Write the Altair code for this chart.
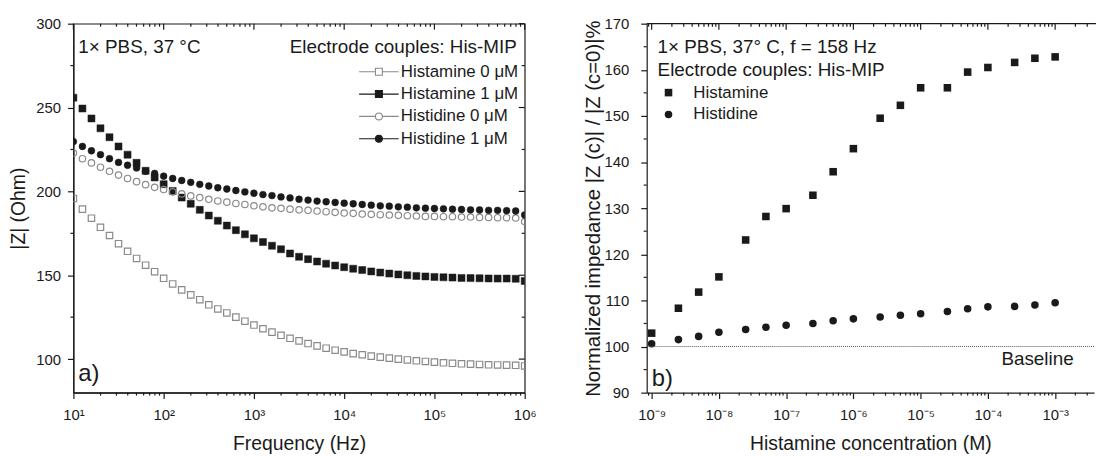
import altair as alt
import pandas as pd

FONT = "Liberation Sans"
INK = "#1a1a1a"
GRAY = "#8a8a8a"

# ---------------- panel a) data ----------------
freq_hz = [10, 12.59, 15.85, 19.95, 25.12, 31.62, 39.81, 50.12, 63.1, 79.43,
           100, 125.9, 158.5, 199.5, 251.2, 316.2, 398.1, 501.2, 631, 794.3,
           1000, 1259, 1585, 1995, 2512, 3162, 3981, 5012, 6310, 7943,
           10000, 12590, 15850, 19950, 25120, 31620, 39810, 50120, 63100, 79430,
           100000, 125900, 158500, 199500, 251200, 316200, 398100, 501200, 631000, 794300,
           1000000]
histamine_0uM = [195.8, 189.4, 184.0, 178.6, 173.7, 168.8, 164.3, 160.0, 156.0, 152.1,
                 148.2, 144.8, 141.3, 138.3, 135.4, 132.4, 129.9, 127.5, 125.0, 122.6,
                 120.3, 118.1, 116.1, 114.2, 112.4, 110.9, 109.3, 107.9, 106.5, 105.3,
                 104.3, 103.3, 102.6, 101.8, 101.2, 100.6, 100.0, 99.5, 99.0, 98.6,
                 98.2, 97.8, 97.5, 97.2, 97.0, 96.8, 96.6, 96.5, 96.4, 96.3, 95.9]
histamine_1uM = [255.9, 249.4, 243.5, 237.6, 232.3, 226.8, 221.9, 217.0, 212.3, 208.3,
                 204.3, 200.3, 196.3, 192.6, 189.0, 185.6, 182.5, 179.6, 176.9, 174.4,
                 172.0, 169.8, 167.6, 165.5, 163.0, 161.0, 159.6, 158.2, 156.9, 155.8,
                 154.8, 153.9, 153.1, 152.3, 151.6, 151.0, 150.5, 150.0, 149.6, 149.3,
                 149.0, 148.8, 148.6, 148.4, 148.3, 148.2, 148.1, 148.0, 148.0, 147.9, 146.6]
histidine_0uM = [222.9, 219.5, 217.0, 214.4, 212.0, 209.7, 207.7, 205.8, 204.0, 202.4,
                 201.1, 199.7, 198.5, 197.3, 196.3, 195.3, 194.3, 193.6, 192.8, 192.2,
                 191.4, 190.8, 190.2, 189.9, 189.4, 189.0, 188.7, 188.3, 187.9, 187.5,
                 187.1, 186.9, 186.5, 186.3, 186.1, 185.9, 185.7, 185.5, 185.3, 185.1,
                 185.1, 184.9, 184.9, 184.7, 184.7, 184.5, 184.5, 184.3, 184.3, 184.1, 182.0]
histidine_1uM = [229.7, 226.8, 224.2, 221.9, 219.5, 217.3, 215.6, 214.0, 212.0, 210.7,
                 209.1, 207.7, 206.5, 205.4, 204.2, 203.2, 202.2, 201.4, 200.5, 199.7,
                 198.9, 198.1, 197.5, 196.7, 196.1, 195.3, 194.8, 194.2, 193.8, 193.4,
                 193.0, 192.6, 192.2, 191.8, 191.4, 191.2, 190.8, 190.6, 190.2, 190.0,
                 189.8, 189.6, 189.4, 189.2, 189.0, 188.9, 188.7, 188.7, 188.5, 188.3, 185.9]
series_left = ["Histamine 0 μM", "Histamine 1 μM", "Histidine 0 μM", "Histidine 1 μM"]
values_left = [histamine_0uM, histamine_1uM, histidine_0uM, histidine_1uM]

# ---------------- panel b) data ----------------
conc_M = [1e-9, 2.5e-9, 5e-9, 1e-8, 2.5e-8, 5e-8, 1e-7, 2.5e-7, 5e-7, 1e-6,
          2.5e-6, 5e-6, 1e-5, 2.5e-5, 5e-5, 1e-4, 2.5e-4, 5e-4, 1e-3]
norm_histamine = [102.9, 108.3, 111.8, 115.1, 123.1, 128.2, 129.9, 132.8, 137.9, 142.9,
                  149.5, 152.3, 156.1, 156.1, 159.5, 160.5, 161.6, 162.5, 162.8]
norm_histidine = [100.6, 101.5, 102.2, 103.1, 103.7, 104.2, 104.6, 105.0, 105.6, 106.0,
                  106.4, 106.8, 107.1, 107.6, 108.2, 108.6, 108.7, 109.0, 109.5]
series_right = ["Histamine", "Histidine"]
baseline_value = [100]

# tick positions
left_decades = [10, 100, 1e3, 1e4, 1e5, 1e6]
left_minor = [m * 10 ** k for k in range(1, 6) for m in range(2, 10)]
left_y_major = [100, 150, 200, 250, 300]
left_y_minor = [125, 175, 225, 275]
right_decades = [1e-9, 1e-8, 1e-7, 1e-6, 1e-5, 1e-4, 1e-3]
right_minor = [9e-10] + [m * 10.0 ** k for k in range(-9, -3) for m in range(2, 10)] + [2e-3, 3e-3]
right_y_major = [90, 100, 110, 120, 130, 140, 150, 160, 170]
right_y_minor = [95, 105, 115, 125, 135, 145, 155, 165]

rows = []
for name, vals in zip(series_left, values_left):
    for f, v in zip(freq_hz, vals):
        rows.append({"freq": f, "z": v, "series": name})
df_left = pd.DataFrame(rows)

rows = []
for name, vals in zip(series_right, [norm_histamine, norm_histidine]):
    for c, v in zip(conc_M, vals):
        rows.append({"conc": c, "norm": v, "series": name})
df_right = pd.DataFrame(rows)

SUPD = {"0": "⁰", "1": "¹", "2": "²", "3": "³", "4": "⁴", "5": "⁵",
        "6": "⁶", "7": "⁷", "8": "⁸", "9": "⁹", "-": "⁻"}


def sup_expr(exponents):
    K = "round(log(datum.value)/LN10)"
    expr = "''"
    for k in exponents:
        s = "10" + "".join(SUPD[c] for c in str(k))
        expr = f"({K} == {k}) ? '{s}' : {expr}"
    return expr


def log_axis(title, vals, exps):
    return alt.Axis(values=vals, labelExpr=sup_expr(exps), title=title, labelFlush=False,
                    labelOverlap=False, grid=False, tickSize=6, labelPadding=9, titlePadding=12)


def lin_axis(title, vals, label_pad, title_pad, title_size):
    return alt.Axis(values=vals, title=title, labelOverlap=False, grid=False, tickSize=6,
                    labelPadding=label_pad, titlePadding=title_pad, titleFontSize=title_size)


def text_layer(text, x, y, size, align="left"):
    return alt.Chart(pd.DataFrame({"t": [text]})).mark_text(
        align=align, baseline="alphabetic", fontSize=size, font=FONT, color=INK
    ).encode(text="t:N", x=alt.value(x), y=alt.value(y))


# ---------------- left chart ----------------
W1, H1 = 455, 372
xs_l = alt.Scale(type="log", domain=[10, 1e6])
ys_l = alt.Scale(domain=[80, 300])
xax_l = log_axis("Frequency (Hz)", left_decades, range(1, 7))
yax_l = lin_axis("|Z| (Ohm)", left_y_major, 7, 7, 19.5)


def xt_l(vals, y0, y1):
    return alt.Chart(pd.DataFrame({"freq": vals})).mark_rule(color=INK, strokeWidth=1.2).encode(
        x=alt.X("freq:Q", scale=xs_l, axis=xax_l), y=alt.value(y0), y2=alt.value(y1))


def yt_l(vals, x0, x1):
    return alt.Chart(pd.DataFrame({"z": vals})).mark_rule(color=INK, strokeWidth=1.2).encode(
        y=alt.Y("z:Q", scale=ys_l, axis=yax_l), x=alt.value(x0), x2=alt.value(x1))


styles = [
    dict(shape="square", size=42, filled=False, stroke=GRAY, strokeWidth=1.2),
    dict(shape="square", size=50, filled=True, fill=INK, stroke=INK, strokeWidth=0.5),
    dict(shape="circle", size=42, filled=False, stroke=GRAY, strokeWidth=1.2),
    dict(shape="circle", size=48, filled=True, fill=INK, stroke=INK, strokeWidth=0.5),
]
left_layers = []
for name, st in zip(series_left, styles):
    left_layers.append(
        alt.Chart(df_left).transform_filter(alt.datum.series == name)
        .mark_point(opacity=1, clip=True, **st)
        .encode(x=alt.X("freq:Q", scale=xs_l, axis=xax_l), y=alt.Y("z:Q", scale=ys_l, axis=yax_l)))
left_layers += [
    xt_l(left_decades, 0, 6),
    xt_l(left_minor, 0, 3),
    xt_l(left_minor, H1, H1 + 3),
    yt_l(left_y_major, W1, W1 - 6),
    yt_l(left_y_minor, W1, W1 - 3),
    yt_l(left_y_minor, 0, -3),
]

SQ = "M-5.7,0H-1M1,0H5.7M-1,-1H1V1H-1Z"
CI = "M-5.7,0H-1M1,0H5.7M1,0A1,1 0 1,1 -1,0A1,1 0 1,1 1,0Z"
leg_l = alt.Legend(title=None, orient="none", legendX=299.5, legendY=40, symbolSize=49,
                   labelOffset=13.5, rowPadding=4.5, padding=0, labelFontSize=17, labelFont=FONT,
                   labelColor=INK, symbolStrokeWidth=1.1)
left_layers.append(
    alt.Chart(df_left).transform_filter("false").mark_point(opacity=1, size=49).encode(
        x=alt.X("freq:Q", scale=xs_l, axis=xax_l),
        y=alt.Y("z:Q", scale=ys_l, axis=yax_l),
        shape=alt.Shape("series:N", scale=alt.Scale(domain=series_left, range=[SQ, SQ, CI, CI]), legend=leg_l),
        fill=alt.Fill("series:N", scale=alt.Scale(domain=series_left, range=["white", INK, "white", INK]), legend=leg_l),
        stroke=alt.Stroke("series:N", scale=alt.Scale(domain=series_left, range=[GRAY, INK, GRAY, INK]), legend=leg_l),
    ))
left_layers += [
    text_layer("1× PBS, 37 °C", 5, 30, 19),
    text_layer("Electrode couples: His-MIP", W1 - 8, 30, 19, align="right"),
    text_layer("a)", 5, 360, 24),
]
left = alt.layer(*left_layers).properties(
    width=W1, height=H1, view=alt.ViewBackground(stroke=INK, strokeWidth=1.2))

# ---------------- right chart ----------------
W2, H2 = 451, 372
xs_r = alt.Scale(type="log", domain=[10 ** -9.0737, 10 ** -2.4217])
ys_r = alt.Scale(domain=[90, 170])
xax_r = log_axis("Histamine concentration (M)", right_decades, range(-9, -2))
yax_r = lin_axis("Normalized impedance |Z (c)| / |Z (c=0)|%", right_y_major, 12, 1, 20.5)


def xt_r(vals, y0, y1):
    return alt.Chart(pd.DataFrame({"conc": vals})).mark_rule(color=INK, strokeWidth=1.2).encode(
        x=alt.X("conc:Q", scale=xs_r, axis=xax_r), y=alt.value(y0), y2=alt.value(y1))


def yt_r(vals, x0, x1):
    return alt.Chart(pd.DataFrame({"norm": vals})).mark_rule(color=INK, strokeWidth=1.2).encode(
        y=alt.Y("norm:Q", scale=ys_r, axis=yax_r), x=alt.value(x0), x2=alt.value(x1))


leg_r = alt.Legend(title=None, orient="none", legendX=13.5, legendY=61, symbolSize=58,
                   labelOffset=16.5, rowPadding=4, padding=0, labelFontSize=17, labelFont=FONT,
                   labelColor=INK, symbolFillColor=INK, symbolStrokeWidth=0)
right_layers = [
    alt.Chart(df_right).mark_point(filled=True, opacity=1, color=INK, size=58).encode(
        x=alt.X("conc:Q", scale=xs_r, axis=xax_r),
        y=alt.Y("norm:Q", scale=ys_r, axis=yax_r),
        shape=alt.Shape("series:N", scale=alt.Scale(domain=series_right, range=["square", "circle"]),
                        legend=leg_r),
    ),
    # top frame line (the right edge of the panel is cut off in the original)
    alt.Chart(pd.DataFrame({"t": [0]})).mark_rule(color=INK, strokeWidth=1.2).encode(
        x=alt.value(0), x2=alt.value(W2 + 2), y=alt.value(0)),
    xt_r(right_decades, 0, 6),
    xt_r(right_minor, 0, 3),
    xt_r(right_minor, H2, H2 + 3),
    yt_r(right_y_minor, 0, -3),
    alt.Chart(pd.DataFrame({"norm": baseline_value})).mark_rule(
        color="#555", strokeDash=[1, 1], strokeWidth=1).encode(
        y=alt.Y("norm:Q", scale=ys_r, axis=yax_r)),
    text_layer("1× PBS, 37° C, f = 158 Hz", 11, 30, 19),
    text_layer("Electrode couples: His-MIP", 11, 53, 19),
    text_layer("b)", 5, 365, 24),
    text_layer("Baseline", 394, 344, 19, align="center"),
]
right = alt.layer(*right_layers).properties(
    width=W2, height=H2, view=alt.ViewBackground(strokeWidth=0))

chart = (
    alt.hconcat(left, right, spacing=45)
    .resolve_scale(shape="independent", fill="independent", stroke="independent")
    .resolve_legend(shape="independent", fill="independent", stroke="independent")
    .properties(padding={"left": 8, "top": 14, "right": 0, "bottom": 0}, background="white")
    .configure_axis(labelFont=FONT, labelFontSize=15, labelColor=INK,
                    titleFont=FONT, titleFontSize=19.5, titleColor=INK, titleFontWeight="normal",
                    domainColor=INK, domainWidth=1.2, tickColor=INK, tickWidth=1.2)
)

chart.save("out.html", embed_options={"renderer": "svg", "actions": False})
